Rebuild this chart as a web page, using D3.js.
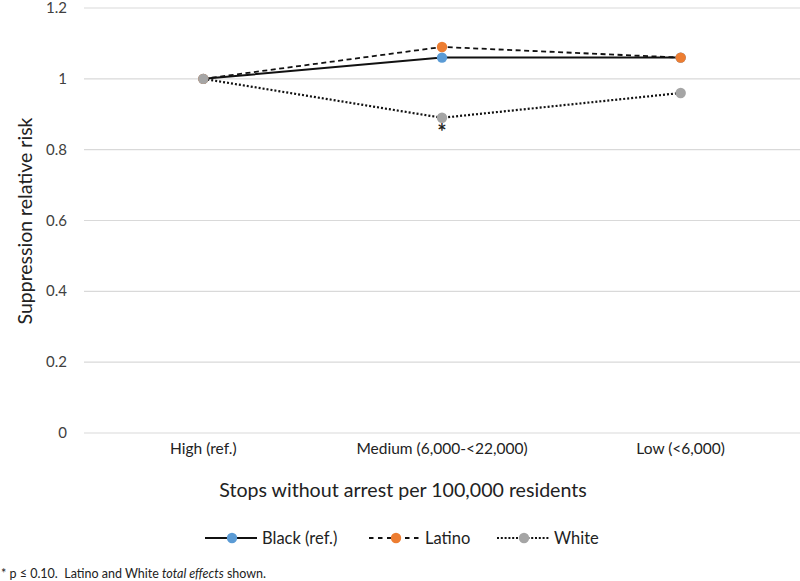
<!DOCTYPE html>
<html lang="en">
<head>
<meta charset="utf-8">
<title>Suppression relative risk</title>
<script src="https://cdn.jsdelivr.net/npm/d3@7"></script>
<style>
  body { margin: 0; background: #fff; }
  text { font-family: Lato, "Open Sans", sans-serif; fill: #222; white-space: pre; }
</style>
</head>
<body>
<script>
var categories = ["High (ref.)", "Medium (6,000-<22,000)", "Low (<6,000)"];
var seriesNames = ["Black (ref.)", "Latino", "White"];
var black = [1, 1.06, 1.06];
var latino = [1, 1.09, 1.06];
var white = [1, 0.89, 0.96];
var yTicks = [0, 0.2, 0.4, 0.6, 0.8, 1, 1.2];
var yTickLabels = ["0", "0.2", "0.4", "0.6", "0.8", "1", "1.2"];

var w = 800, h = 581;
var plotLeft = 84, plotRight = 800, plotTop = 8, plotBottom = 433;

var svg = d3.select("body").append("svg")
    .attr("width", w).attr("height", h);

var x = d3.scalePoint().domain(categories).range([plotLeft, plotRight]).padding(0.5);
var y = d3.scaleLinear().domain([0, 1.2]).range([plotBottom, plotTop]);

// gridlines
svg.selectAll("line.grid").data(yTicks).enter().append("line")
    .attr("class", "grid")
    .attr("x1", plotLeft).attr("x2", plotRight)
    .attr("y1", function (d) { return y(d); })
    .attr("y2", function (d) { return y(d); })
    .attr("stroke", "#d9d9d9").attr("stroke-width", 1.2);

// y tick labels
svg.selectAll("text.ytick").data(yTicks).enter().append("text")
    .attr("class", "ytick")
    .attr("x", 67)
    .attr("y", function (d) { return y(d) + 5; })
    .attr("text-anchor", "end")
    .attr("font-size", "15px")
    .style("fill", "#404040")
    .text(function (d, i) { return yTickLabels[i]; });

// x tick labels
svg.selectAll("text.xtick").data(categories).enter().append("text")
    .attr("class", "xtick")
    .attr("x", function (d) { return x(d); })
    .attr("y", 454)
    .attr("text-anchor", "middle")
    .attr("font-size", "15.5px")
    .text(function (d) { return d; });

// axis titles
svg.append("text")
    .attr("transform", "translate(32,221) rotate(-90)")
    .attr("text-anchor", "middle")
    .attr("font-size", "19.5px")
    .text("Suppression relative risk");

svg.append("text")
    .attr("x", 403).attr("y", 497)
    .attr("text-anchor", "middle")
    .attr("font-size", "19.6px")
    .text("Stops without arrest per 100,000 residents");

var series = [
    { name: seriesNames[0], values: black, color: "#5b9bd5", dash: null, legendDash: null, width: 2 },
    { name: seriesNames[1], values: latino, color: "#ed7d31", dash: "5,3.5", legendDash: "4.5,4.5", width: 1.8 },
    { name: seriesNames[2], values: white, color: "#a5a5a5", dash: "2,2", legendDash: "2,1.8", width: 2.2 }
];

var line = d3.line()
    .x(function (d, i) { return x(categories[i]); })
    .y(function (d) { return y(d); });

series.forEach(function (s) {
    svg.append("path")
        .datum(s.values)
        .attr("d", line)
        .attr("fill", "none")
        .attr("stroke", "#111")
        .attr("stroke-width", s.width)
        .attr("stroke-dasharray", s.dash);
    svg.selectAll(null).data(s.values).enter().append("circle")
        .attr("cx", function (d, i) { return x(categories[i]); })
        .attr("cy", function (d) { return y(d); })
        .attr("r", 5.2)
        .attr("fill", s.color);
});

// significance marker
svg.append("text")
    .attr("x", x(categories[1]))
    .attr("y", y(white[1]) + 22)
    .attr("text-anchor", "middle")
    .attr("font-size", "22px")
    .attr("font-weight", "bold")
    .text("*");

// legend
var legendX = [205, 369, 497];
var legend = svg.selectAll("g.legend").data(series).enter().append("g")
    .attr("class", "legend")
    .attr("transform", function (d, i) { return "translate(" + legendX[i] + ",538)"; });
legend.append("line")
    .attr("x1", 0).attr("x2", 52).attr("y1", 0).attr("y2", 0)
    .attr("stroke", "#111")
    .attr("stroke-width", function (d) { return d.width; })
    .attr("stroke-dasharray", function (d) { return d.legendDash; });
legend.append("circle")
    .attr("cx", 27).attr("cy", 0).attr("r", 5.2)
    .attr("fill", function (d) { return d.color; });
legend.append("text")
    .attr("x", function (d, i) { return i === 1 ? 56 : 57; })
    .attr("y", 5.5)
    .attr("font-size", "16.5px")
    .text(function (d) { return d.name; });

// footnote
var foot = svg.append("text")
    .attr("x", 1).attr("y", 578)
    .attr("font-size", "12.5px");
foot.append("tspan").text("* p \u2264 0.10.  Latino and White ");
foot.append("tspan").attr("font-style", "italic").text("total effects");
foot.append("tspan").text(" shown.");
</script>
</body>
</html>
